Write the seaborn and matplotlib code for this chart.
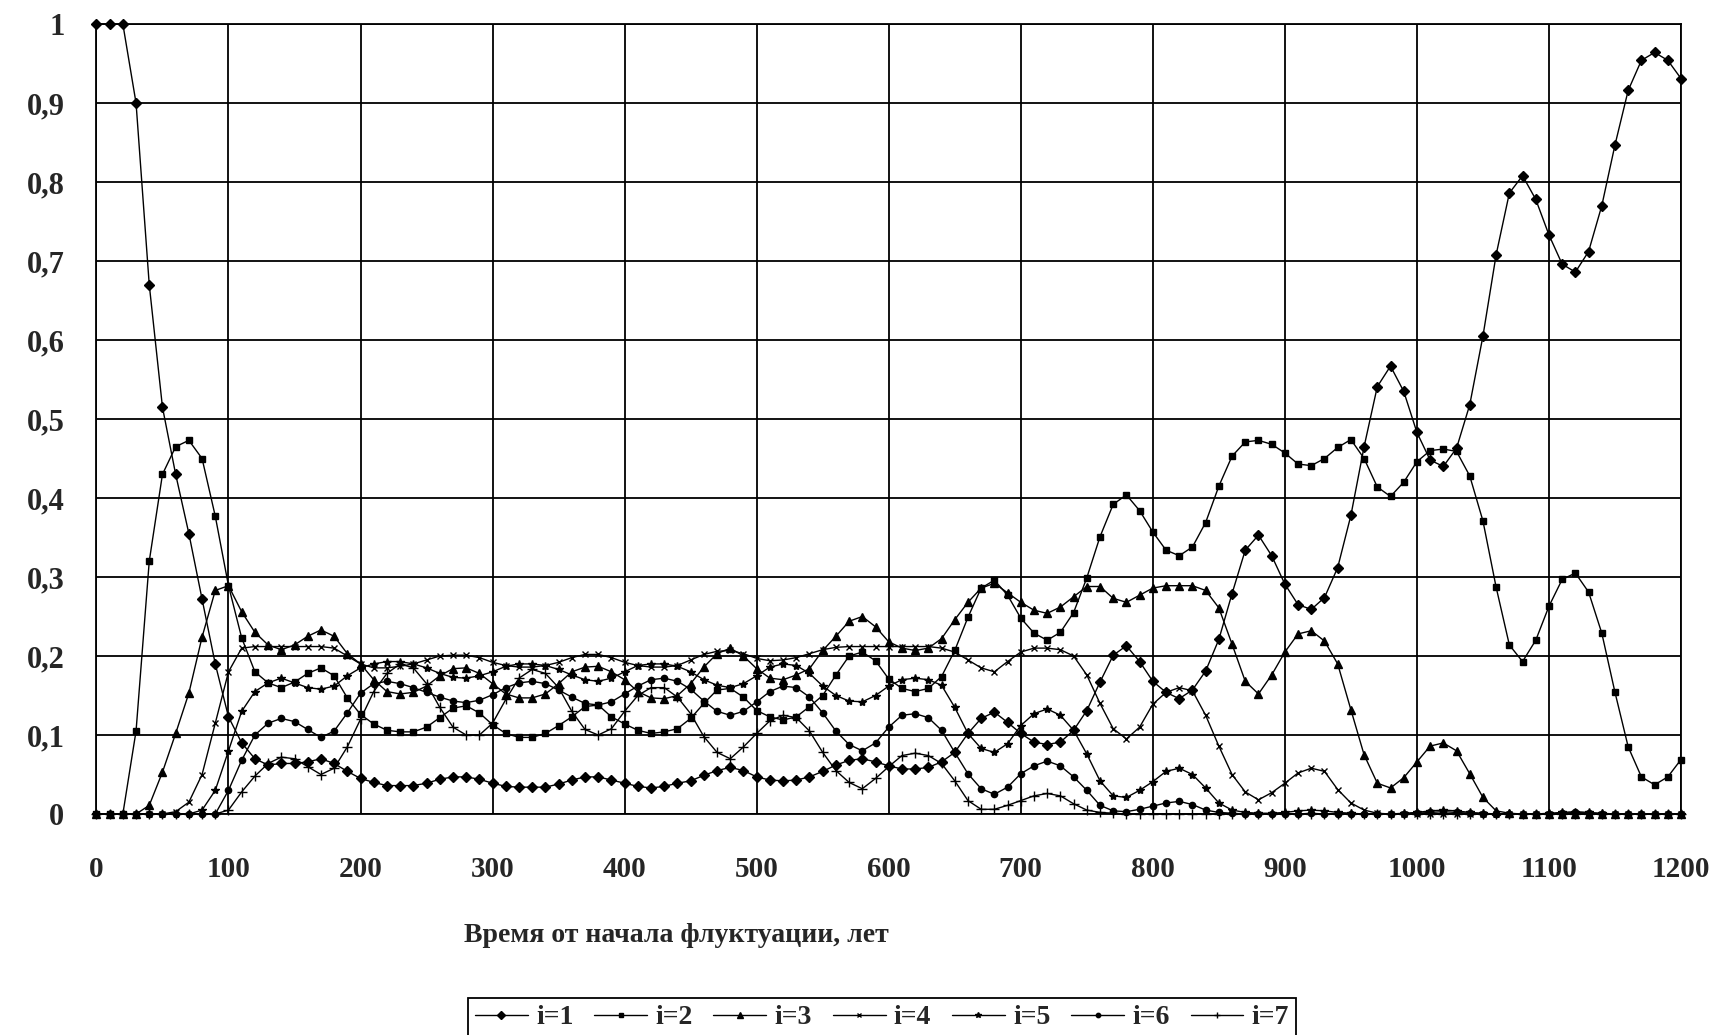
import numpy as np
import pandas as pd
import matplotlib
matplotlib.use("Agg")
import matplotlib.pyplot as plt
import seaborn as sns

# time axis, years (one point every 10 years)
years = np.arange(0, 1201, 10)

i1 = [1.0, 1.0, 1.0, 0.90, 0.67, 0.515, 0.43, 0.355, 0.272, 0.19,
      0.123, 0.09, 0.07, 0.062, 0.064, 0.064, 0.066, 0.07, 0.064, 0.054,
      0.045, 0.04, 0.036, 0.036, 0.036, 0.039, 0.044, 0.047, 0.047, 0.044,
      0.039, 0.035, 0.034, 0.034, 0.034, 0.038, 0.043, 0.047, 0.047, 0.043,
      0.039, 0.035, 0.033, 0.035, 0.039, 0.042, 0.049, 0.055, 0.059, 0.055,
      0.047, 0.043, 0.042, 0.043, 0.047, 0.054, 0.062, 0.068, 0.07, 0.066,
      0.061, 0.057, 0.057, 0.059, 0.066, 0.078, 0.102, 0.121, 0.129, 0.116,
      0.102, 0.091, 0.088, 0.091, 0.106, 0.131, 0.167, 0.201, 0.213, 0.193,
      0.168, 0.154, 0.146, 0.157, 0.181, 0.221, 0.279, 0.334, 0.353, 0.327,
      0.291, 0.265, 0.259, 0.274, 0.312, 0.378, 0.465, 0.541, 0.567, 0.535,
      0.483, 0.448, 0.44, 0.463, 0.518, 0.605, 0.708, 0.786, 0.808, 0.778,
      0.733, 0.696, 0.686, 0.712, 0.77, 0.847, 0.916, 0.954, 0.964, 0.954,
      0.931]

i2 = [0, 0, 0, 0.105, 0.32, 0.43, 0.465, 0.473, 0.45, 0.377,
      0.289, 0.223, 0.18, 0.166, 0.16, 0.167, 0.178, 0.185, 0.175, 0.147,
      0.126, 0.114, 0.106, 0.104, 0.104, 0.11, 0.122, 0.134, 0.137, 0.128,
      0.113, 0.102, 0.097, 0.097, 0.102, 0.112, 0.123, 0.136, 0.138, 0.123,
      0.114, 0.106, 0.102, 0.104, 0.108, 0.121, 0.14, 0.157, 0.159, 0.148,
      0.131, 0.123, 0.119, 0.123, 0.136, 0.15, 0.176, 0.2, 0.205, 0.194,
      0.171, 0.159, 0.155, 0.159, 0.174, 0.207, 0.249, 0.286, 0.296, 0.277,
      0.248, 0.229, 0.22, 0.23, 0.255, 0.299, 0.351, 0.392, 0.404, 0.384,
      0.357, 0.334, 0.327, 0.338, 0.369, 0.415, 0.453, 0.471, 0.473, 0.468,
      0.457, 0.443, 0.441, 0.45, 0.464, 0.474, 0.45, 0.414, 0.402, 0.42,
      0.446, 0.46, 0.462, 0.459, 0.428, 0.371, 0.287, 0.214, 0.193, 0.22,
      0.263, 0.297, 0.305, 0.281, 0.229, 0.154, 0.085, 0.047, 0.037, 0.047,
      0.069]

i3 = [0, 0, 0, 0, 0.011, 0.053, 0.102, 0.153, 0.224, 0.283,
      0.289, 0.256, 0.23, 0.214, 0.208, 0.214, 0.225, 0.233, 0.225, 0.203,
      0.19, 0.17, 0.155, 0.152, 0.154, 0.162, 0.175, 0.184, 0.185, 0.178,
      0.165, 0.152, 0.147, 0.147, 0.152, 0.165, 0.18, 0.186, 0.187, 0.18,
      0.17, 0.155, 0.147, 0.146, 0.15, 0.165, 0.186, 0.203, 0.21, 0.2,
      0.184, 0.172, 0.17, 0.176, 0.184, 0.207, 0.225, 0.244, 0.25, 0.237,
      0.218, 0.21, 0.207, 0.21, 0.222, 0.246, 0.268, 0.286, 0.292, 0.28,
      0.268, 0.258, 0.254, 0.262, 0.275, 0.288, 0.288, 0.273, 0.268, 0.277,
      0.286, 0.289, 0.289, 0.289, 0.283, 0.261, 0.215, 0.168, 0.152, 0.176,
      0.205, 0.228, 0.232, 0.219, 0.19, 0.132, 0.075, 0.039, 0.033, 0.046,
      0.066, 0.086, 0.09, 0.08, 0.051, 0.021, 0.004, 0.001, 0, 0,
      0, 0, 0, 0, 0, 0, 0, 0, 0, 0,
      0]

i4 = [0, 0, 0, 0, 0, 0, 0.003, 0.015, 0.05, 0.115,
      0.18, 0.21, 0.212, 0.212, 0.212, 0.212, 0.212, 0.212, 0.21, 0.2,
      0.19, 0.185, 0.185, 0.187, 0.19, 0.195, 0.2, 0.201, 0.201, 0.198,
      0.192, 0.188, 0.186, 0.186, 0.188, 0.192, 0.198, 0.202, 0.202, 0.198,
      0.192, 0.188, 0.186, 0.186, 0.188, 0.195, 0.202, 0.206, 0.207, 0.203,
      0.197, 0.194, 0.195, 0.198, 0.203, 0.208, 0.211, 0.212, 0.212, 0.212,
      0.212, 0.212, 0.212, 0.212, 0.21, 0.205, 0.195, 0.185, 0.18, 0.193,
      0.205, 0.21, 0.21, 0.208, 0.2, 0.176, 0.14, 0.108, 0.095, 0.11,
      0.139, 0.154, 0.16, 0.156, 0.125, 0.086, 0.05, 0.028, 0.018, 0.027,
      0.039, 0.052, 0.058, 0.054, 0.031, 0.014, 0.005, 0.001, 0, 0,
      0, 0, 0, 0, 0, 0, 0, 0, 0, 0,
      0, 0, 0, 0, 0, 0, 0, 0, 0, 0,
      0]

i5 = [0, 0, 0, 0, 0, 0, 0, 0, 0.005, 0.03,
      0.08, 0.13, 0.155, 0.166, 0.172, 0.166, 0.16, 0.158, 0.162, 0.175,
      0.185, 0.19, 0.193, 0.193, 0.19, 0.185, 0.178, 0.173, 0.172, 0.175,
      0.18, 0.187, 0.19, 0.19, 0.188, 0.183, 0.176, 0.17, 0.168, 0.172,
      0.18, 0.188, 0.19, 0.19, 0.187, 0.18, 0.17, 0.163, 0.16, 0.165,
      0.175, 0.186, 0.19, 0.188, 0.178, 0.162, 0.15, 0.143, 0.142, 0.15,
      0.162, 0.17, 0.172, 0.17, 0.163, 0.135, 0.102, 0.083, 0.078, 0.089,
      0.112, 0.127, 0.133, 0.125, 0.106, 0.076, 0.042, 0.023, 0.021, 0.03,
      0.041, 0.054, 0.058, 0.05, 0.033, 0.014, 0.005, 0.002, 0.001, 0.001,
      0.002, 0.004, 0.005, 0.004, 0.002, 0.001, 0, 0, 0, 0.001,
      0.002, 0.004, 0.005, 0.004, 0.002, 0.001, 0, 0, 0, 0,
      0.001, 0.002, 0.003, 0.002, 0.001, 0, 0, 0, 0, 0,
      0]

i6 = [0, 0, 0, 0, 0, 0, 0, 0, 0, 0,
      0.03, 0.068, 0.1, 0.115, 0.121, 0.117, 0.107, 0.097, 0.105, 0.128,
      0.153, 0.165, 0.168, 0.165, 0.16, 0.154, 0.148, 0.143, 0.141, 0.144,
      0.151, 0.16, 0.166, 0.168, 0.165, 0.157, 0.148, 0.14, 0.138, 0.142,
      0.152, 0.162, 0.17, 0.172, 0.168, 0.158, 0.143, 0.13, 0.125, 0.13,
      0.142, 0.155, 0.162, 0.16, 0.148, 0.128, 0.105, 0.088, 0.08, 0.09,
      0.11, 0.125, 0.127, 0.122, 0.106, 0.078, 0.051, 0.032, 0.025, 0.034,
      0.051, 0.061, 0.067, 0.061, 0.047, 0.03, 0.011, 0.004, 0.003, 0.006,
      0.01, 0.014, 0.016, 0.012, 0.005, 0.002, 0.001, 0, 0, 0,
      0, 0, 0.001, 0, 0, 0, 0, 0, 0, 0,
      0.001, 0.002, 0.003, 0.002, 0.001, 0, 0, 0, 0, 0,
      0, 0.001, 0.002, 0.001, 0, 0, 0, 0, 0, 0,
      0]

i7 = [0, 0, 0, 0, 0, 0, 0, 0, 0, 0,
      0.005, 0.028, 0.048, 0.064, 0.072, 0.07, 0.06, 0.05, 0.058, 0.085,
      0.12, 0.155, 0.178, 0.19, 0.185, 0.165, 0.135, 0.11, 0.1, 0.1,
      0.115, 0.145, 0.172, 0.183, 0.178, 0.16, 0.13, 0.107, 0.1, 0.108,
      0.13, 0.15, 0.16, 0.16, 0.148, 0.127, 0.098, 0.078, 0.07, 0.085,
      0.102, 0.118, 0.125, 0.122, 0.105, 0.078, 0.055, 0.04, 0.032, 0.045,
      0.06, 0.074, 0.077, 0.074, 0.064, 0.042, 0.017, 0.006, 0.006, 0.011,
      0.017, 0.023, 0.026, 0.023, 0.013, 0.005, 0.002, 0.001, 0, 0,
      0, 0, 0, 0, 0, 0, 0, 0, 0, 0,
      0, 0, 0, 0, 0, 0, 0, 0, 0, 0,
      0, 0, 0, 0, 0, 0, 0, 0, 0, 0,
      0, 0, 0, 0, 0, 0, 0, 0, 0, 0,
      0]

labels = ["i=1", "i=2", "i=3", "i=4", "i=5", "i=6", "i=7"]
values = [i1, i2, i3, i4, i5, i6, i7]
markers = ["D", "s", "^", "x", "*", "o", "+"]
msizes = [5.5, 5, 5.5, 5, 6, 4.5, 7]

y_ticks = [0, 0.1, 0.2, 0.3, 0.4, 0.5, 0.6, 0.7, 0.8, 0.9, 1.0]
y_ticklabels = ["0", "0,1", "0,2", "0,3", "0,4", "0,5", "0,6", "0,7", "0,8", "0,9", "1"]
x_ticks = list(range(0, 1201, 100))

sns.set_style("white")
plt.rcParams["font.family"] = ["Liberation Serif", "DejaVu Serif"]
plt.rcParams["font.weight"] = "bold"

fig = plt.figure(figsize=(17.22, 10.35), dpi=100)
ax = fig.add_axes([0.056, 0.2135, 0.9202, 0.7633])

for name, vals, mk, ms in zip(labels, values, markers, msizes):
    df = pd.DataFrame({"t": years, "v": vals})
    sns.lineplot(data=df, x="t", y="v", ax=ax, color="black", lw=1.0,
                 marker=mk, markersize=ms, mec="black", mfc="black",
                 mew=1.0, label=name, clip_on=False, zorder=3)

ax.set_xlim(0, 1200)
ax.set_ylim(0, 1)
ax.set_xticks(x_ticks)
ax.set_xticklabels([str(v) for v in x_ticks], fontsize=21, fontweight="bold")
ax.set_yticks(y_ticks)
ax.set_yticklabels(y_ticklabels, fontsize=22, fontweight="bold")
ax.set_xlabel("")
ax.set_ylabel("")
ax.grid(True, color="black", lw=1.3)
for sp in ax.spines.values():
    sp.set_visible(True)
    sp.set_color("black")
    sp.set_linewidth(1.3)
ax.tick_params(axis="x", direction="out", length=9, width=1.3, color="black", pad=21)
ax.tick_params(axis="y", direction="out", length=10, width=1.3, color="black", pad=13)

fig.text(676 / 1722, 1 - 935 / 1035, "Время от начала флуктуации, лет",
         ha="center", va="center", fontsize=20, fontweight="bold")

leg = ax.legend(loc="upper center", bbox_to_anchor=(882 / 1722, 1 - 998 / 1035),
                bbox_transform=fig.transFigure, ncol=7, frameon=True, fancybox=False,
                edgecolor="black", framealpha=1, borderpad=0.25, handlelength=1.9,
                handletextpad=0.3, columnspacing=0.75, borderaxespad=0, markerscale=0.7,
                prop={"weight": "bold", "size": 20})
leg.get_frame().set_linewidth(1.3)

fig.savefig("out.png", dpi=100, facecolor="white")
